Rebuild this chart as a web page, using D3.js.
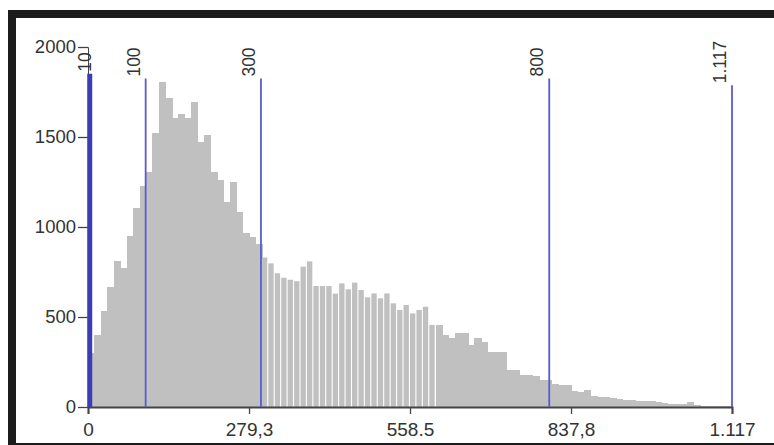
<!DOCTYPE html>
<html>
<head>
<meta charset="UTF-8">
<title>Histogram</title>
<script src="https://cdn.jsdelivr.net/npm/d3@7/dist/d3.min.js"></script>
<style>
body { margin: 0; background: #fff; }
text { font-family: Arial, "Liberation Sans", sans-serif; }
</style>
</head>
<body>
<script>
// histogram counts, 100 equal bins from 0 to 1117
var counts = [300, 400, 535, 665, 811, 770, 950, 1105, 1230, 1307,
              1524, 1807, 1715, 1604, 1628, 1604, 1696, 1474, 1511, 1307,
              1261, 1141, 1252, 1085, 968, 946, 906, 831, 798, 743,
              718, 707, 699, 780, 809, 672, 672, 672, 630, 687,
              654, 691, 650, 609, 631, 604, 631, 576, 539, 567,
              520, 539, 557, 456, 456, 400, 381, 409, 409, 344,
              381, 360, 307, 307, 307, 206, 206, 178, 178, 175,
              150, 150, 128, 125, 120, 88, 85, 92, 60, 57,
              55, 48, 42, 40, 38, 35, 36, 33, 30, 20,
              18, 16, 18, 30, 10, 8, 7, 6, 5, 4];
var minValue = 0;
var maxValue = 1117;

var breakValues = [3, 100, 300, 800, 1117];
var breakLabels = ["10", "100", "300", "800", "1.117"];

var xTickValues = [0, 279.3, 558.5, 837.8, 1117];
var xTickLabels = ["0", "279,3", "558.5", "837,8", "1.117"];
var yTickValues = [0, 500, 1000, 1500, 2000];

var w = 774;
var h = 445;
var margin = {top: 47, right: 42, bottom: 38, left: 88};

var x = d3.scaleLinear()
    .domain([minValue, maxValue])
    .range([margin.left, w - margin.right]);

var y = d3.scaleLinear()
    .domain([0, 2000])
    .range([h - margin.bottom, margin.top]);

var step = (maxValue - minValue) / counts.length;
var bins = counts.map(function(c, i){
    return {x0: minValue + i * step, x1: minValue + (i + 1) * step, count: c};
});

function gapped(d){ return d.x0 >= 300 && d.x0 < 600; }

var svg = d3.select("body")
    .append("svg")
    .attr("width", w)
    .attr("height", h);

// bars
svg.append("g")
    .selectAll(".bar")
    .data(bins)
    .enter()
    .append("rect")
    .classed("bar", true)
    .attr("x", function(d){ return x(d.x0); })
    .attr("y", function(d){ return y(d.count); })
    .attr("width", function(d){
        var bw = x(d.x1) - x(d.x0);
        // the middle stretch of bars is drawn with thin white gaps
        return gapped(d) ? bw - 1.1 : bw + 0.8;
    })
    .attr("height", function(d){ return y(0) - y(d.count); })
    .attr("shape-rendering", function(d){ return gapped(d) ? "auto" : "crispEdges"; })
    .attr("fill", "#c0c0c0");

// y axis
var yAxis = svg.append("g")
    .attr("transform", "translate(" + margin.left + ",0)")
    .call(d3.axisLeft(y).tickValues(yTickValues).tickSize(10).tickPadding(2).tickFormat(d3.format("d")));
yAxis.select(".domain").attr("stroke", "#444");
yAxis.selectAll(".tick line").attr("stroke", "#444").attr("stroke-width", 1.3);
yAxis.selectAll("text").attr("font-size", 18.5).attr("fill", "#333");

// x axis
var xAxis = svg.append("g")
    .attr("transform", "translate(0," + y(0) + ")")
    .call(d3.axisBottom(x).tickValues(xTickValues).tickSize(7).tickPadding(9)
        .tickFormat(function(d, i){ return xTickLabels[i]; }));
xAxis.select(".domain").attr("stroke", "#444").attr("stroke-width", 2);
xAxis.selectAll(".tick line").attr("stroke", "#444").attr("stroke-width", 1.3);
xAxis.selectAll("text").attr("font-size", 19).attr("fill", "#333");

// class break lines with rotated labels
var labelMid = 62;
var breaks = svg.append("g").selectAll(".break")
    .data(breakValues)
    .enter()
    .append("g")
    .classed("break", true);

breaks.append("text")
    .attr("transform", function(d, i){
        var off = i === 0 ? 1 : -6;
        return "translate(" + (x(d) + off) + "," + labelMid + ") rotate(-90)";
    })
    .attr("text-anchor", "middle")
    .attr("font-size", 17.5)
    .attr("fill", "#333")
    .text(function(d, i){ return breakLabels[i]; });

breaks.append("line")
    .attr("x1", function(d){ return x(d); })
    .attr("x2", function(d){ return x(d); })
    .attr("y1", function(d, i){
        var len = this.parentNode.querySelector("text").getComputedTextLength();
        return labelMid + len / 2 + 2;
    })
    .attr("y2", y(0))
    .attr("stroke", function(d, i){ return i === 0 ? "#3c3cb4" : "#5a5ad2"; })
    .attr("stroke-width", function(d, i){ return i === 0 ? 5 : 1.8; });

// dark frame
svg.append("rect")
    .attr("x", 12)
    .attr("y", 14)
    .attr("width", 800)
    .attr("height", 433)
    .attr("fill", "none")
    .attr("stroke", "#1c1c1c")
    .attr("stroke-width", 8);
</script>
</body>
</html>
